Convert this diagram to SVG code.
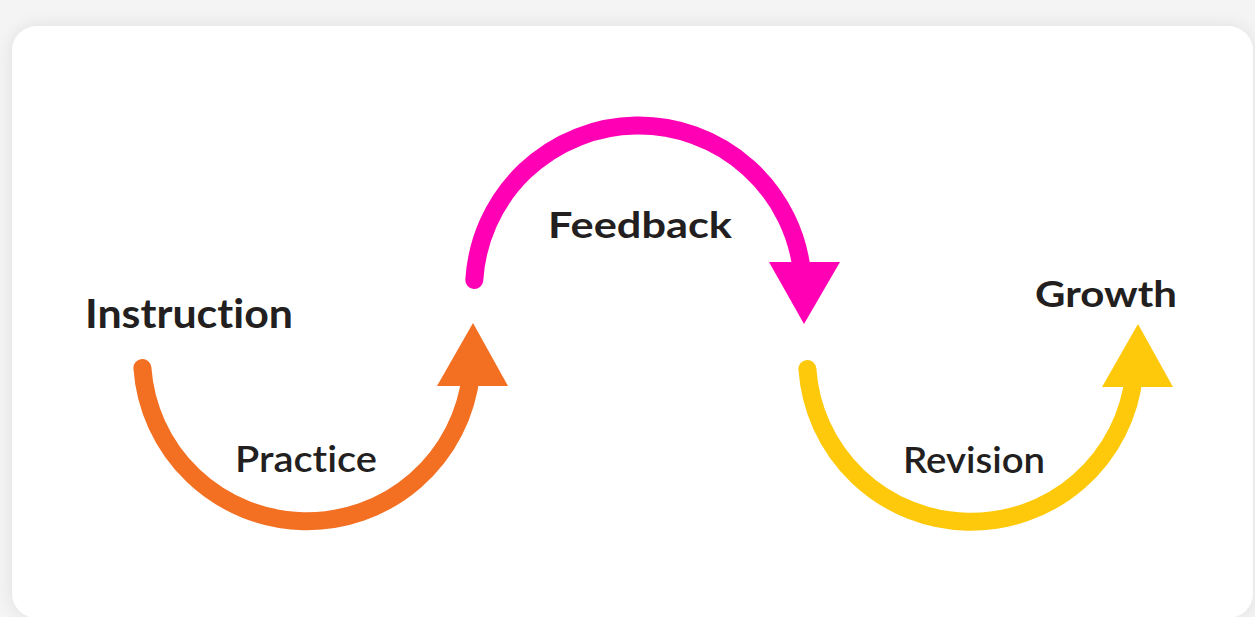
<svg xmlns="http://www.w3.org/2000/svg" width="1255" height="617" viewBox="0 0 1255 617">
  <defs>
    <filter id="shadow" x="-5%" y="-5%" width="110%" height="110%">
      <feGaussianBlur in="SourceAlpha" stdDeviation="9"/>
      <feOffset dx="0" dy="0" result="b"/>
      <feComponentTransfer><feFuncA type="linear" slope="0.09"/></feComponentTransfer>
      <feMerge><feMergeNode/><feMergeNode in="SourceGraphic"/></feMerge>
    </filter>
  </defs>
  <style>
    .lbl { font-family: "Lato", "Liberation Sans", sans-serif; fill: #231f20; font-variant-ligatures: none; font-feature-settings: "liga" 0, "dlig" 0, "clig" 0; }
    .b { font-weight: 700; }
    .m { font-weight: 600; }
    .arc { fill: none; stroke-width: 18; stroke-linecap: round; }
  </style>
  <rect x="0" y="0" width="1255" height="617" fill="#f4f4f4"/>
  <rect x="12" y="26" width="1241" height="592" rx="25" ry="25" fill="#ffffff" filter="url(#shadow)"/>

  <g id="connectors">
    <g id="practice-arrow">
      <path class="arc" stroke="#f36f21" d="M142.4 368 A165 165 0 0 0 470.9 375"/>
      <polygon fill="#f36f21" points="473,323 508,386 437,386"/>
    </g>
    <g id="feedback-arrow">
      <path class="arc" stroke="#ff00b4" d="M474.3 280 A164.5 164.5 0 0 1 802.3 275"/>
      <polygon fill="#ff00b4" points="804,324 769,262 840,262"/>
    </g>
    <g id="revision-arrow">
      <path class="arc" stroke="#ffc90b" d="M807.4 369 A164 164 0 0 0 1134 376"/>
      <polygon fill="#ffc90b" points="1138,324 1173,387 1102,387"/>
    </g>
  </g>

  <g id="instruction"><text class="lbl b" x="85" y="328" font-size="40" textLength="208" lengthAdjust="spacingAndGlyphs">Instruction</text></g>
  <g id="practice"><text class="lbl m" x="235" y="472" font-size="36" textLength="142" lengthAdjust="spacingAndGlyphs">Practice</text></g>
  <g id="feedback"><text class="lbl b" x="548" y="238" font-size="37" textLength="184" lengthAdjust="spacingAndGlyphs">Feedback</text></g>
  <g id="revision"><text class="lbl m" x="903" y="473" font-size="36" textLength="142" lengthAdjust="spacingAndGlyphs">Revision</text></g>
  <g id="growth"><text class="lbl b" x="1035" y="307" font-size="37" textLength="142" lengthAdjust="spacingAndGlyphs">Growth</text></g>
</svg>
